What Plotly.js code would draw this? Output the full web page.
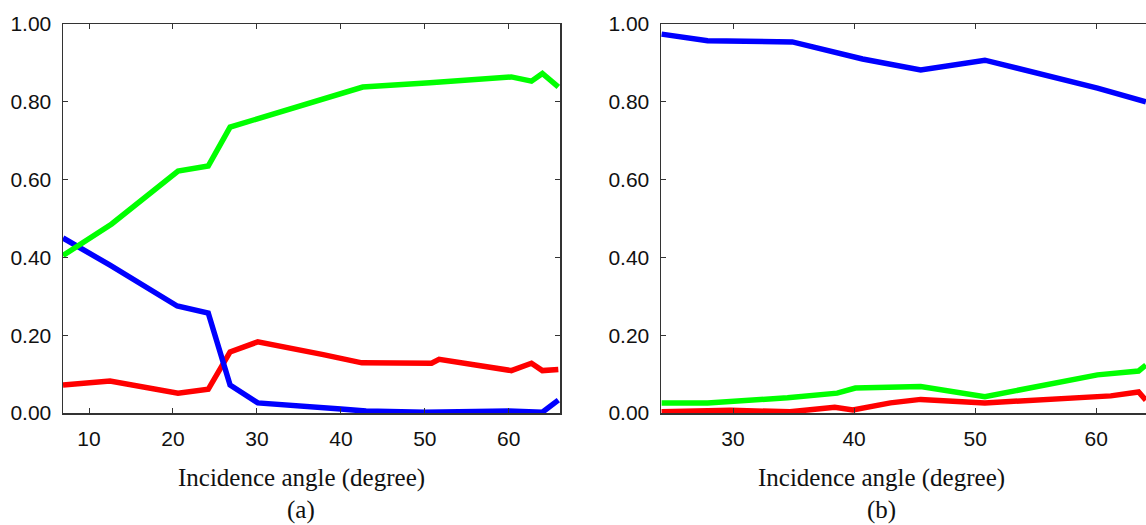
<!DOCTYPE html>
<html>
<head>
<meta charset="utf-8">
<script src="https://cdn.plot.ly/plotly-3.0.1.min.js"></script>
<style>
html,body{margin:0;padding:0;overflow:hidden;background:#fff;}
#plot{width:1160px;height:525px;}
</style>
</head>
<body>
<div id="plot"></div>
<script>
// Panel (a)
const aGreenX = [6.9, 12.7, 20.6, 24.2, 26.8, 33.6, 38.7, 41.1, 42.6, 50.6, 60.3, 62.7, 64.0, 65.9];
const aGreenY = [0.405, 0.486, 0.622, 0.635, 0.735, 0.779, 0.813, 0.828, 0.838, 0.849, 0.864, 0.853, 0.873, 0.838];
const aBlueX = [6.9, 12.5, 20.5, 24.2, 26.8, 30.1, 40.0, 43.0, 50.0, 60.0, 64.0, 65.9];
const aBlueY = [0.450, 0.380, 0.275, 0.257, 0.072, 0.026, 0.010, 0.005, 0.002, 0.005, 0.002, 0.033];
const aRedX = [6.9, 12.5, 20.6, 24.2, 26.8, 30.1, 37.9, 42.5, 50.8, 51.7, 60.3, 62.7, 64.0, 65.9];
const aRedY = [0.072, 0.082, 0.051, 0.061, 0.157, 0.183, 0.150, 0.129, 0.128, 0.138, 0.109, 0.128, 0.109, 0.112];

// Panel (b)
const bBlueX = [24.1, 27.9, 34.9, 38.8, 40.7, 45.5, 50.8, 60.1, 64.1];
const bBlueY = [0.974, 0.957, 0.954, 0.923, 0.910, 0.882, 0.907, 0.835, 0.800];
const bGreenX = [24.1, 27.9, 34.5, 38.6, 40.1, 43.0, 45.5, 50.8, 60.1, 63.5, 64.1];
const bGreenY = [0.026, 0.026, 0.039, 0.051, 0.064, 0.067, 0.068, 0.042, 0.098, 0.108, 0.123];
const bRedX = [24.1, 29.8, 34.7, 38.4, 39.9, 43.0, 45.5, 50.8, 61.2, 63.5, 64.1];
const bRedY = [0.003, 0.007, 0.003, 0.015, 0.008, 0.026, 0.035, 0.026, 0.044, 0.054, 0.033];

const yTicks = [0, 0.2, 0.4, 0.6, 0.8, 1.0];
const aXTicks = [10, 20, 30, 40, 50, 60];
const bXTicks = [30, 40, 50, 60];
const xTitle = 'Incidence angle (degree)';
const panelLabels = ['(a)', '(b)'];

const W = 1160, H = 525;
function ln(x, y, color, xa, ya) {
  return {x: x, y: y, type: 'scatter', mode: 'lines', xaxis: xa, yaxis: ya,
          line: {color: color, width: 5.5}, hoverinfo: 'skip', showlegend: false};
}
const traces = [
  ln(aRedX, aRedY, '#ff0000', 'x', 'y'),
  ln(aBlueX, aBlueY, '#0000ff', 'x', 'y'),
  ln(aGreenX, aGreenY, '#00ff00', 'x', 'y'),
  ln(bRedX, bRedY, '#ff0000', 'x2', 'y2'),
  ln(bGreenX, bGreenY, '#00ff00', 'x2', 'y2'),
  ln(bBlueX, bBlueY, '#0000ff', 'x2', 'y2')
];

const tickFont = {family: 'Liberation Sans, Arial, sans-serif', size: 21, color: '#111'};
const common = {showgrid: false, zeroline: false, showline: true, linecolor: '#333', linewidth: 1.5,
                mirror: 'ticks', ticks: 'inside', ticklen: 5, tickcolor: '#333', tickwidth: 1,
                tickfont: tickFont, fixedrange: true};
const yDom = [1 - 413 / H, 1 - 24 / H];
const serif = {family: '"Liberation Serif", "Times New Roman", serif', size: 25, color: '#111'};

const layout = {
  width: W, height: H,
  margin: {l: 0, r: 0, t: 0, b: 0},
  paper_bgcolor: '#fff', plot_bgcolor: '#fff',
  xaxis: Object.assign({}, common, {domain: [63 / W, 560 / W], range: [6.9, 66.1],
          tickvals: aXTicks, ticktext: aXTicks.map(String), anchor: 'y', ticklabelstandoff: 6}),
  yaxis: Object.assign({}, common, {domain: yDom, range: [0, 1], tickvals: yTicks,
          ticktext: yTicks.map(v => v.toFixed(2)), anchor: 'x', ticklabelstandoff: 6}),
  xaxis2: Object.assign({}, common, {domain: [661 / W, 1158 / W], range: [24.05, 65.1],
          tickvals: bXTicks, ticktext: bXTicks.map(String), anchor: 'y2', ticklabelstandoff: 6}),
  yaxis2: Object.assign({}, common, {domain: yDom, range: [0, 1], tickvals: yTicks,
          ticktext: yTicks.map(v => v.toFixed(2)), anchor: 'x2', ticklabelstandoff: 6}),
  annotations: [
    {text: xTitle, xref: 'paper', yref: 'paper', x: 301 / W, y: 1 - 478 / H, xanchor: 'center', yanchor: 'middle',
     showarrow: false, font: serif},
    {text: panelLabels[0], xref: 'paper', yref: 'paper', x: 301 / W, y: 0, xanchor: 'center', yanchor: 'bottom',
     showarrow: false, font: serif, borderpad: 0},
    {text: xTitle, xref: 'paper', yref: 'paper', x: 881 / W, y: 1 - 478 / H, xanchor: 'center', yanchor: 'middle',
     showarrow: false, font: serif},
    {text: panelLabels[1], xref: 'paper', yref: 'paper', x: 881 / W, y: 0, xanchor: 'center', yanchor: 'bottom',
     showarrow: false, font: serif, borderpad: 0}
  ]
};
Plotly.newPlot('plot', traces, layout, {displayModeBar: false, staticPlot: true});
</script>
</body>
</html>
